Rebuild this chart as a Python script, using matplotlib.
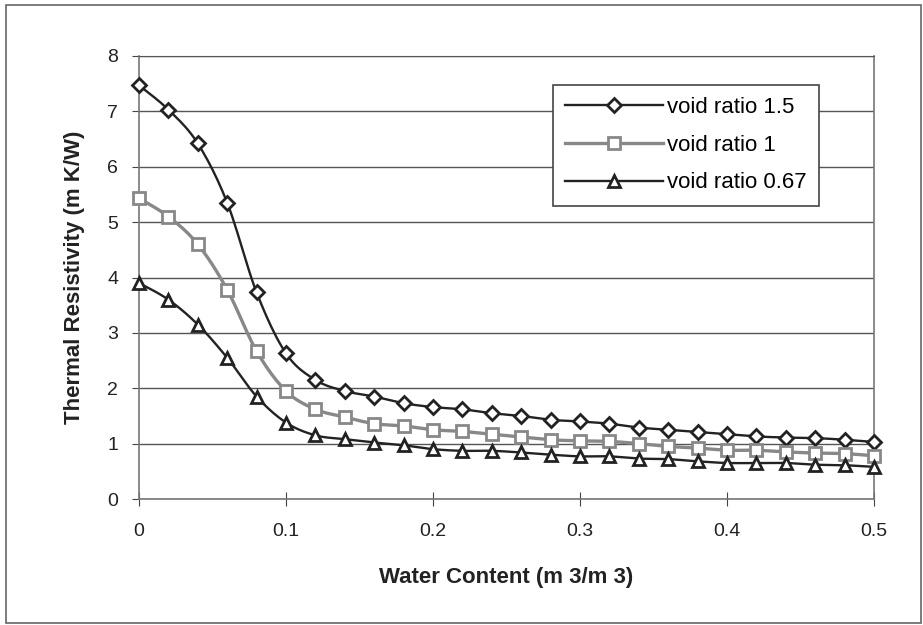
import numpy as np
import matplotlib.pyplot as plt
from matplotlib.patches import Rectangle

plt.rcParams['font.family'] = ['Liberation Sans', 'DejaVu Sans']

water = [0.0, 0.02, 0.04, 0.06, 0.08, 0.10, 0.12, 0.14, 0.16, 0.18, 0.20, 0.22, 0.24,
         0.26, 0.28, 0.30, 0.32, 0.34, 0.36, 0.38, 0.40, 0.42, 0.44, 0.46, 0.48, 0.50]
void_15 = [7.47, 7.03, 6.42, 5.35, 3.73, 2.63, 2.15, 1.95, 1.85, 1.73, 1.66, 1.62, 1.55,
           1.50, 1.43, 1.40, 1.36, 1.29, 1.25, 1.21, 1.17, 1.13, 1.11, 1.10, 1.07, 1.03]
void_1 = [5.43, 5.10, 4.60, 3.78, 2.67, 1.95, 1.62, 1.48, 1.36, 1.32, 1.25, 1.22, 1.17,
          1.12, 1.07, 1.05, 1.04, 1.00, 0.95, 0.92, 0.88, 0.88, 0.85, 0.83, 0.82, 0.78]
void_067 = [3.90, 3.60, 3.15, 2.55, 1.85, 1.38, 1.15, 1.08, 1.02, 0.97, 0.90, 0.87, 0.87,
            0.84, 0.80, 0.77, 0.77, 0.73, 0.72, 0.68, 0.65, 0.65, 0.65, 0.62, 0.61, 0.58]
labels = ['void ratio 1.5', 'void ratio 1', 'void ratio 0.67']
x_ticks = [0, 0.1, 0.2, 0.3, 0.4, 0.5]
y_ticks = [0, 1, 2, 3, 4, 5, 6, 7, 8]


def smooth(x, y, n=12):
    """Catmull-Rom curve through the points, like Excel's smoothed lines"""
    x = np.asarray(x, float)
    y = np.asarray(y, float)
    p = np.column_stack([x, y])
    p = np.vstack([p[0], p, p[-1]])
    out = []
    t = np.linspace(0, 1, n, endpoint=False)[:, None]
    for i in range(1, len(p) - 2):
        p0, p1, p2, p3 = p[i - 1], p[i], p[i + 1], p[i + 2]
        seg = 0.5 * ((2 * p1) + (-p0 + p2) * t + (2 * p0 - 5 * p1 + 4 * p2 - p3) * t ** 2
                     + (-p0 + 3 * p1 - 3 * p2 + p3) * t ** 3)
        out.append(seg)
    out.append(p[-2][None, :])
    out = np.vstack(out)
    return out[:, 0], out[:, 1]


fig = plt.figure(figsize=(9.23, 6.25), dpi=100)
ax = fig.add_axes([0.1506, 0.2016, 0.7963, 0.7088])

fig.patches.append(Rectangle((0.006, 0.004), 0.992, 0.988, transform=fig.transFigure,
                             fill=False, edgecolor='#666666', linewidth=1.2))

styles = [
    (void_15, '#222222', 'D', 7),
    (void_1, '#888888', 's', 9),
    (void_067, '#222222', '^', 9),
]
for (vals, col, mk, ms), lab in zip(styles, labels):
    sx, sy = smooth(water, vals)
    lw = 2.4 if col == '#888888' else 1.7
    ax.plot(sx, sy, color=col, linewidth=lw, zorder=3)
    ax.plot(water, vals, linestyle='none', marker=mk, markersize=ms, markerfacecolor='white',
            markeredgecolor=col, markeredgewidth=2, zorder=4, clip_on=False)
    ax.plot([], [], color=col, linewidth=lw, marker=mk, markersize=ms, markerfacecolor='white',
            markeredgecolor=col, markeredgewidth=2, label=lab)

ax.set_xlim(0, 0.5)
ax.set_ylim(0, 8)
ax.set_xticks(x_ticks)
ax.set_xticklabels(['0', '0.1', '0.2', '0.3', '0.4', '0.5'])
ax.set_yticks(y_ticks)
ax.yaxis.grid(True, color='#555555', linewidth=1)
ax.set_axisbelow(True)

for side in ['left', 'bottom', 'right']:
    ax.spines[side].set_color('#777777')
    ax.spines[side].set_linewidth(1.2)
ax.spines['top'].set_color('#555555')
ax.tick_params(axis='x', direction='inout', length=10, color='#444444', labelsize=14,
               pad=12, labelcolor='#222222')
ax.tick_params(axis='y', direction='out', length=5, color='#444444', labelsize=14,
               pad=10, labelcolor='#222222')

ax.set_xlabel('Water Content (m 3/m 3)', fontsize=16, fontweight='bold', color='#222222',
              labelpad=20)
ax.set_ylabel('Thermal Resistivity (m K/W)', fontsize=16, fontweight='bold', color='#222222',
              labelpad=16)

leg = ax.legend(loc='upper right', bbox_to_anchor=(0.925, 0.935), fontsize=16, frameon=True,
                fancybox=False, edgecolor='#444444', framealpha=1, handlelength=4.4,
                handletextpad=0.2, borderpad=0.55, labelspacing=0.75, borderaxespad=0)
leg.get_frame().set_linewidth(1.2)

fig.savefig('out.png', dpi=100, facecolor='white')
